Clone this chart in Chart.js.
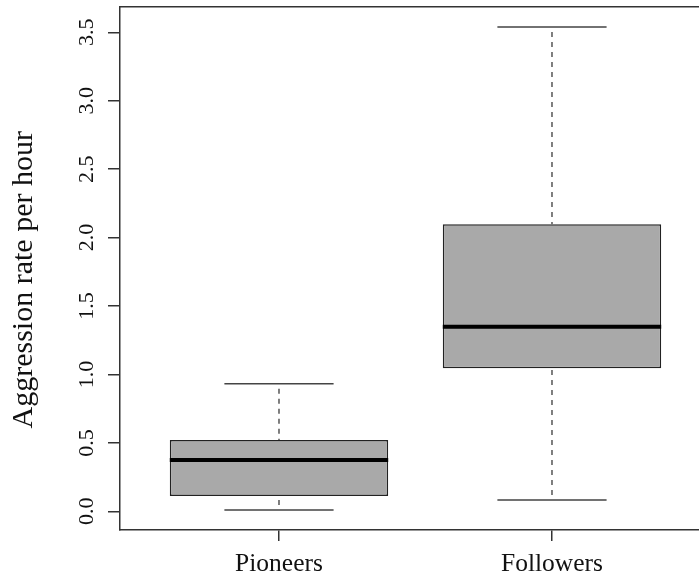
<!DOCTYPE html>
<html><head><meta charset="utf-8">
<script src="https://cdn.jsdelivr.net/npm/chart.js@4"></script>
<style>html,body{margin:0;padding:0;background:#fff;overflow:hidden}</style>
</head><body>
<canvas id="c" width="699" height="580"></canvas>
<script>
const categories = ['Pioneers', 'Followers'];
const whiskerLow = [0.01, 0.083];
const q1 = [0.112, 1.045];
const medians = [0.375, 1.349];
const q3 = [0.521, 2.097];
const whiskerHigh = [0.932, 3.539];
const yTickValues = [0, 0.5, 1, 1.5, 2, 2.5, 3, 3.5];
const yTickLabels = ['0.0', '0.5', '1.0', '1.5', '2.0', '2.5', '3.0', '3.5'];
const yTitle = 'Aggression rate per hour';

const FONT = '"Liberation Serif", "Times New Roman", serif';
const BOX_HALF = 0.4, CAP_HALF = 0.2;

const boxData = categories.map((c, i) => ({x: i + 1, y: [q1[i], q3[i]]}));
const medianData = categories.flatMap((c, i) => [
  {x: i + 1 - BOX_HALF, y: medians[i]}, {x: i + 1 + BOX_HALF, y: medians[i]}, {x: i + 1.5, y: null}
]);
const capData = categories.flatMap((c, i) => [
  {x: i + 1 - CAP_HALF, y: whiskerLow[i]}, {x: i + 1 + CAP_HALF, y: whiskerLow[i]}, {x: i + 1, y: null},
  {x: i + 1 - CAP_HALF, y: whiskerHigh[i]}, {x: i + 1 + CAP_HALF, y: whiskerHigh[i]}, {x: i + 1, y: null}
]);
const whiskerData = categories.flatMap((c, i) => [
  {x: i + 1, y: whiskerLow[i]}, {x: i + 1, y: q1[i]}, {x: i + 1, y: null},
  {x: i + 1, y: whiskerHigh[i]}, {x: i + 1, y: q3[i]}, {x: i + 1, y: null}
]);

const lineBase = {type: 'line', pointRadius: 0, fill: false, tension: 0, spanGaps: false, xAxisID: 'x', yAxisID: 'y'};

new Chart(document.getElementById('c'), {
  type: 'bar',
  data: {
    datasets: [
      Object.assign({}, lineBase, {data: medianData, borderColor: '#000', borderWidth: 4, order: 1, borderCapStyle: 'butt'}),
      Object.assign({}, lineBase, {data: capData, borderColor: '#444', borderWidth: 1.5, order: 2}),
      Object.assign({}, lineBase, {data: whiskerData, borderColor: '#555', borderWidth: 1.5, borderDash: [5, 5], borderDashOffset: 5, order: 2}),
      {type: 'bar', data: boxData, backgroundColor: '#a9a9a9', borderColor: '#222', borderWidth: 1.5,
       borderSkipped: false, barPercentage: 0.8, categoryPercentage: 1, order: 3, xAxisID: 'x', yAxisID: 'y'}
    ]
  },
  options: {
    responsive: false,
    devicePixelRatio: 1,
    animation: false,
    events: [],
    layout: {padding: {top: 7, left: 0, right: 0, bottom: 0}},
    plugins: {legend: {display: false}, tooltip: {enabled: false}},
    scales: {
      x: {
        type: 'linear', position: 'bottom', min: 0.4176, max: 2.5385, offset: false,
        afterBuildTicks: s => { s.ticks = categories.map((c, i) => ({value: i + 1})); },
        afterFit: s => { s.height = 50; s.paddingLeft = 0; s.paddingRight = 0; },
        ticks: {callback: (v, i) => categories[i], font: {family: FONT, size: 25.5}, color: '#111',
                padding: 8, maxRotation: 0, minRotation: 0, autoSkip: false},
        grid: {display: true, drawOnChartArea: false, drawTicks: true, tickLength: 11, color: '#333', lineWidth: 1.5, offset: false},
        border: {display: true, color: '#333', width: 1.5}
      },
      xTop: {
        type: 'linear', position: 'top', min: 0, max: 1, offset: false,
        afterFit: s => { s.height = 0; s.paddingLeft = 0; s.paddingRight = 0; },
        ticks: {display: false},
        grid: {display: false, drawTicks: false},
        border: {display: true, color: '#333', width: 1.5}
      },
      y: {
        type: 'linear', position: 'left', min: -0.1366, max: 3.6849,
        afterBuildTicks: s => { s.ticks = yTickValues.map(v => ({value: v})); },
        afterFit: s => { s.width = 120; s.paddingTop = 0; s.paddingBottom = 0; },
        ticks: {callback: (v, i) => yTickLabels[i], font: {family: FONT, size: 22}, color: '#111',
                padding: 7, minRotation: 90, maxRotation: 90, crossAlign: 'center', autoSkip: false},
        grid: {display: true, drawOnChartArea: false, drawTicks: true, tickLength: 12, color: '#333', lineWidth: 1.5},
        border: {display: true, color: '#333', width: 1.5},
        title: {display: true, text: yTitle + '   ', font: {family: FONT, size: 30}, color: '#111', padding: {top: 6, bottom: 0}}
      }
    }
  }
});
</script>
</body></html>
